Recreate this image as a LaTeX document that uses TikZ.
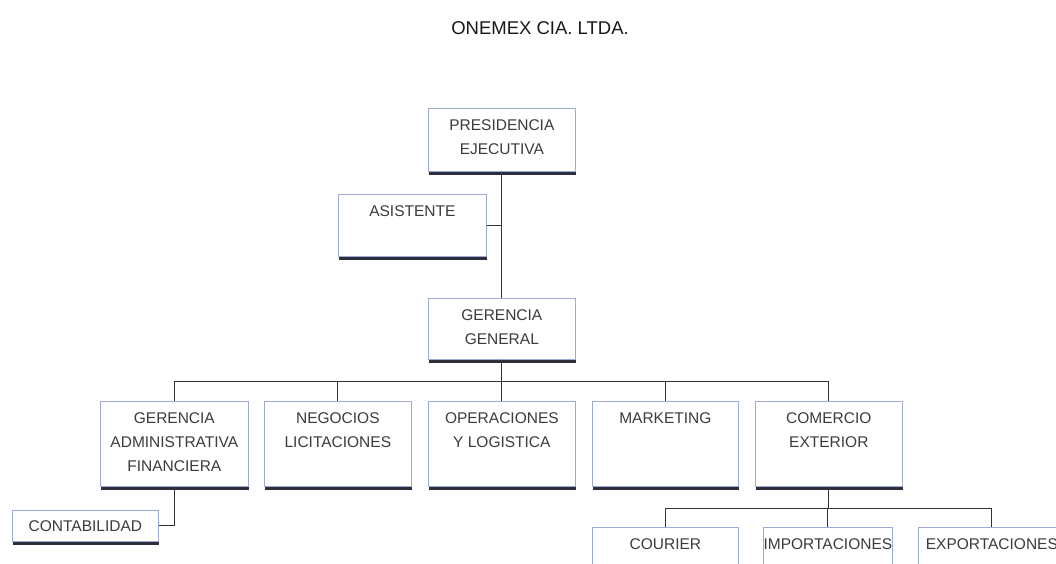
\documentclass[tikz,border=0pt]{standalone}
\usepackage{fontspec}
\setmainfont{Liberation Sans}
\usetikzlibrary{positioning, shadows}
\definecolor{boxline}{RGB}{160,170,215}
\definecolor{inktext}{RGB}{60,60,60}
\definecolor{shadowink}{RGB}{45,45,60}
\newcommand{\boxtext}[3]{\parbox[t][#2][t]{#1}{\centering\vspace*{11.5pt}#3}}

\begin{document}
\begin{tikzpicture}[
		x=1pt, y=-1pt,
		unit/.style={draw=boxline, fill=white, line width=0.7pt, anchor=north west, inner sep=0pt,
			text=inktext, font=\fontsize{15.5}{24}\selectfont,
			drop shadow={shadow xshift=0.5pt, shadow yshift=-4pt, fill=shadowink, opacity=1}},
		link/.style={draw=black!80, line width=1.1pt},
	]
	\clip (0,0) rectangle (1056,563);
	\fill[white] (0,0) rectangle (1056,563);

	\node[font=\fontsize{18.5}{22}\selectfont, text=black!90] (title) at (540,28) {ONEMEX CIA. LTDA.};

	\node[unit] (pres) at (428,108) {\boxtext{147pt}{63pt}{PRESIDENCIA\\EJECUTIVA}};
	\node[unit] (asist) at (338,194) {\boxtext{148pt}{62pt}{ASISTENTE}};
	\node[unit] (gg) at (428,298) {\boxtext{147pt}{61pt}{GERENCIA\\GENERAL}};

	\node[unit] (gaf) at (100,401) {\boxtext{148pt}{85pt}{GERENCIA\\ADMINISTRATIVA\\FINANCIERA}};
	\node[unit] (neg) at (264,401) {\boxtext{147pt}{85pt}{NEGOCIOS\\LICITACIONES}};
	\node[unit] (oper) at (428,401) {\boxtext{147pt}{85pt}{OPERACIONES\\Y LOGISTICA}};
	\node[unit] (mkt) at (592,401) {\boxtext{146pt}{85pt}{MARKETING}};
	\node[unit] (comex) at (755,401) {\boxtext{147pt}{85pt}{COMERCIO\\EXTERIOR}};

	\node[unit] (conta) at (12,510) {\parbox[c][31pt]{146pt}{\centering CONTABILIDAD}};

	\node[unit] (cour) at (592,527) {\boxtext{146pt}{50pt}{COURIER}};
	\node[unit] (imp) at (763,527) {\boxtext{129pt}{50pt}{IMPORTACIONES}};
	\node[unit] (exp) at (918,527) {\boxtext{147pt}{50pt}{EXPORTACIONES}};

	\coordinate (bus) at ([yshift=-22pt]gg.south);
	\coordinate (cbus) at ([yshift=-22pt]comex.south);

	\draw[link] (pres.south) -- (gg.north);
	\draw[link] (asist.east) -- (asist.east -| pres.south);
	\draw[link] (gg.south) -- (bus);
	\draw[link] (gaf.north |- bus) -- (comex.north |- bus);
	\foreach \u in {gaf, neg, oper, mkt, comex}
		\draw[link] (\u.north |- bus) -- (\u.north);

	\draw[link] (gaf.south) |- (conta.east);

	\draw[link] (comex.south) -- (cbus);
	\draw[link] (cour.north |- cbus) -- (exp.north |- cbus);
	\foreach \u in {cour, imp, exp}
		\draw[link] (\u.north |- cbus) -- (\u.north);
\end{tikzpicture}
\end{document}
